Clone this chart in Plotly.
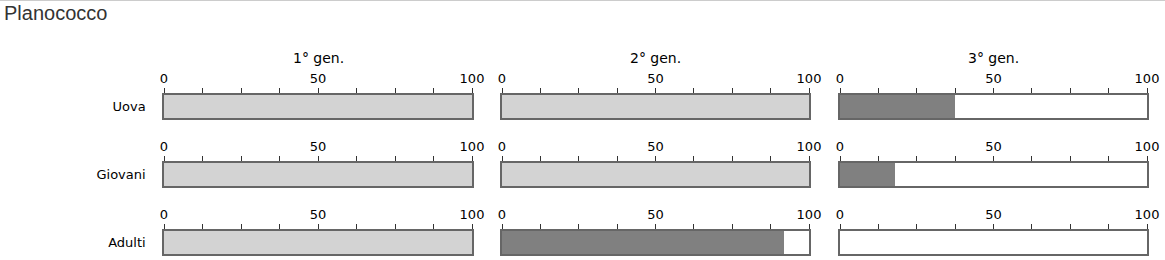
import plotly.graph_objects as go

title = "Planococco"
generations = ["1° gen.", "2° gen.", "3° gen."]
stages = ["Uova", "Giovani", "Adulti"]
# percentage per stage (rows) and generation (columns)
values = {
    "1° gen.": [100, 100, 100],
    "2° gen.": [100, 100, 92],
    "3° gen.": [37.5, 18, 0],
}
tick_vals = [0, 12.5, 25, 37.5, 50, 62.5, 75, 87.5, 100]
tick_text = ["0", "", "", "", "50", "", "", "", "100"]

W, H = 1165, 260
col_px = [(164, 472), (502, 809), (840, 1147)]
row_px = [(95, 118), (163, 186), (231, 254)]
FONT = "Verdana, DejaVu Sans, sans-serif"

fig = go.Figure()
n = 0
for ci, gen in enumerate(generations):
    for ri, stage in enumerate(stages):
        n += 1
        xa = "x" if n == 1 else f"x{n}"
        ya = "y" if n == 1 else f"y{n}"
        v = values[gen][ri]
        color = "#d3d3d3" if v >= 100 else "#808080"
        fig.add_trace(go.Bar(
            x=[v], y=[stage], orientation="h", base=0, width=1,
            marker=dict(color=color, line=dict(width=0)),
            xaxis=xa, yaxis=ya, showlegend=False, hoverinfo="x",
        ))
        x0, x1 = col_px[ci]
        y0, y1 = row_px[ri]
        xkey = "xaxis" if n == 1 else f"xaxis{n}"
        ykey = "yaxis" if n == 1 else f"yaxis{n}"
        fig.layout[xkey] = dict(
            domain=[x0 / W, x1 / W], anchor=ya, side="top", range=[0, 100],
            automargin=False,
            tickmode="array", tickvals=tick_vals, ticktext=tick_text,
            ticks="outside", ticklen=5, tickcolor="#333", tickwidth=1,
            showline=True, mirror=True, linecolor="#666", linewidth=1.5,
            showgrid=False, zeroline=False, fixedrange=True,
            tickfont=dict(family=FONT, size=13, color="#000"),
        )
        fig.layout[ykey] = dict(
            domain=[1 - y1 / H, 1 - y0 / H], anchor=xa, type="category",
            automargin=False,
            range=[-0.5, 0.5], showline=True, mirror=True, linecolor="#666",
            linewidth=1.5, showgrid=False, zeroline=False, fixedrange=True,
            showticklabels=(ci == 0), ticks="", ticklabelstandoff=14,
            tickfont=dict(family=FONT, size=13, color="#000"),
        )

for ci, gen in enumerate(generations):
    x0, x1 = col_px[ci]
    fig.add_annotation(
        text=gen, xref="paper", yref="paper", x=(x0 + x1) / 2 / W, y=1 - 58 / H,
        showarrow=False, xanchor="center", yanchor="middle",
        font=dict(family=FONT, size=14, color="#000"),
    )

fig.add_shape(type="line", xref="paper", yref="paper", x0=0, x1=1,
              y0=1 - 0.5 / H, y1=1 - 0.5 / H, line=dict(color="#cccccc", width=1))

fig.update_layout(
    width=W, height=H, margin=dict(l=0, r=0, t=0, b=0),
    paper_bgcolor="white", plot_bgcolor="white", bargap=0,
    title=dict(text=title, x=4 / W, xanchor="left", xref="paper",
               y=1 - 13 / H, yanchor="middle", yref="container", automargin=False,
               font=dict(family="Liberation Sans, Arial, sans-serif", size=20, color="#333")),
)

fig.write_html("out.html")
